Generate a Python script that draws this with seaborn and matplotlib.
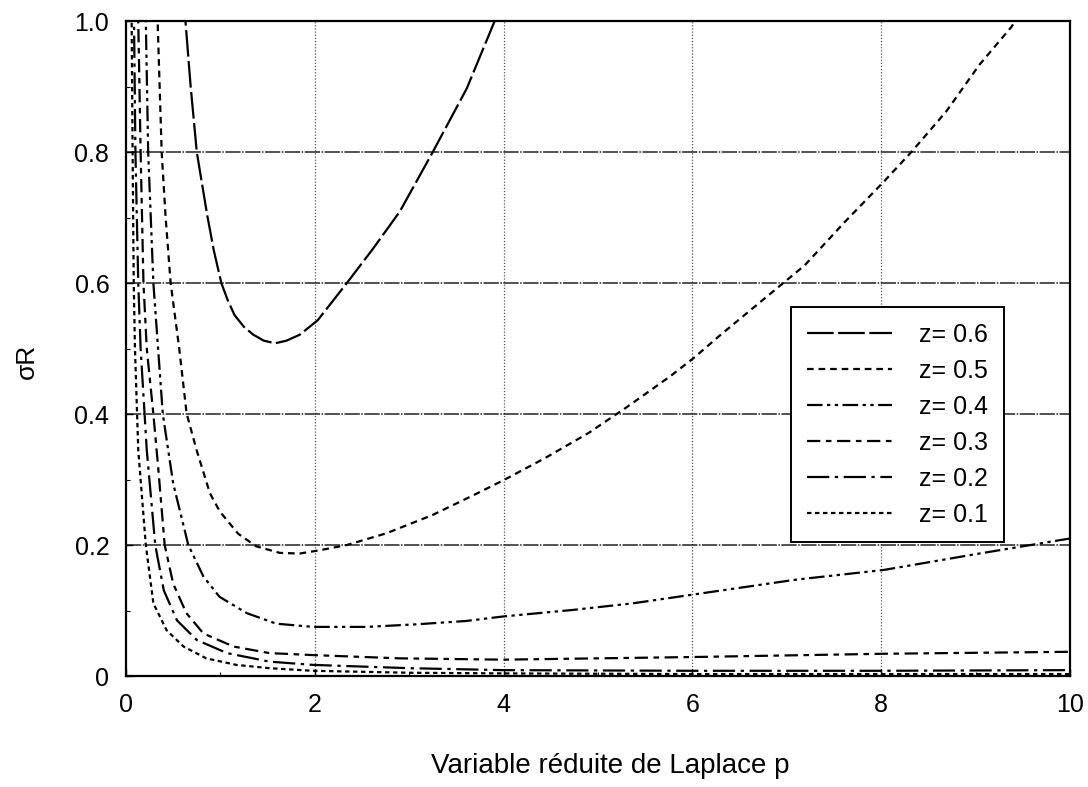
import matplotlib
matplotlib.use("Agg")
import matplotlib.pyplot as plt
from matplotlib import font_manager
from matplotlib.ticker import MultipleLocator
import seaborn as sns
import pandas as pd

# valeurs (p, sigma R) pour chaque z
p_06 = [0.61, 0.63, 0.685, 0.75, 0.86, 0.93, 1.01, 1.08, 1.15, 1.25, 1.35, 1.46, 1.58, 1.70, 1.84, 2.03, 2.34, 2.62, 2.90, 3.25, 3.61, 3.90, 3.95]
s_06 = [1.04, 1.00, 0.90, 0.80, 0.704, 0.65, 0.60, 0.573, 0.551, 0.533, 0.521, 0.512, 0.508, 0.512, 0.521, 0.543, 0.600, 0.653, 0.709, 0.800, 0.897, 0.998, 1.02]

p_05 = [0.33, 0.335, 0.378, 0.42, 0.473, 0.564, 0.642, 0.748, 0.889, 0.995, 1.19, 1.38, 1.63, 1.84, 2.05, 2.34, 2.76, 3.25,
        3.68, 4.00, 4.43, 4.90, 5.31, 5.76, 6.01, 6.30, 6.77, 7.19, 7.62, 8.03, 8.32, 8.69, 9.04, 9.38, 9.42]
s_05 = [1.03, 1.00, 0.80, 0.70, 0.60, 0.50, 0.401, 0.345, 0.279, 0.251, 0.217, 0.198, 0.188, 0.187, 0.192, 0.200, 0.218, 0.246,
        0.276, 0.299, 0.332, 0.371, 0.411, 0.457, 0.485, 0.521, 0.577, 0.627, 0.694, 0.755, 0.800, 0.862, 0.933, 0.991, 1.00]

p_04 = [0.20, 0.21, 0.235, 0.29, 0.34, 0.39, 0.50, 0.66, 0.82, 0.99, 1.28, 1.59, 1.98, 2.55, 3.08, 3.60, 4.00, 4.74, 5.37, 5.99, 7.09, 8.03, 9.04, 10.0]
s_04 = [1.05, 1.00, 0.80, 0.60, 0.50, 0.40, 0.294, 0.200, 0.152, 0.121, 0.096, 0.080, 0.075, 0.075, 0.079, 0.084, 0.091, 0.101, 0.111, 0.124, 0.147, 0.162, 0.187, 0.210]

p_03 = [0.125, 0.13, 0.155, 0.185, 0.22, 0.29, 0.34, 0.41, 0.50, 0.64, 0.82, 1.14, 1.52, 1.98, 2.90, 4.0, 6.0, 8.03, 10.0]
s_03 = [1.05, 1.00, 0.80, 0.60, 0.50, 0.40, 0.32, 0.20, 0.141, 0.096, 0.065, 0.045, 0.035, 0.032, 0.027, 0.025, 0.029, 0.034, 0.037]

p_02 = [0.08, 0.085, 0.10, 0.13, 0.155, 0.22, 0.31, 0.40, 0.54, 0.75, 1.07, 1.52, 1.98, 3.0, 4.0, 6.0, 8.0, 10.0]
s_02 = [1.05, 1.00, 0.80, 0.60, 0.50, 0.345, 0.20, 0.131, 0.085, 0.055, 0.035, 0.022, 0.017, 0.012, 0.009, 0.008, 0.008, 0.009]

p_01 = [0.055, 0.06, 0.07, 0.082, 0.095, 0.13, 0.21, 0.29, 0.43, 0.61, 0.85, 1.17, 1.52, 1.98, 3.0, 4.0, 6.0, 8.0, 10.0]
s_01 = [1.05, 1.00, 0.80, 0.60, 0.50, 0.345, 0.20, 0.111, 0.070, 0.045, 0.027, 0.017, 0.012, 0.008, 0.005, 0.004, 0.003, 0.003, 0.003]

noms = ["z= 0.6", "z= 0.5", "z= 0.4", "z= 0.3", "z= 0.2", "z= 0.1"]
series = [(p_06, s_06), (p_05, s_05), (p_04, s_04), (p_03, s_03), (p_02, s_02), (p_01, s_01)]

lignes = []
for nom, (p, s) in zip(noms, series):
    for a, b in zip(p, s):
        lignes.append({"p": a, "sigma": b, "z": nom})
df = pd.DataFrame(lignes)

# style des traits comme sur l'original
tirets = {
    "z= 0.6": (12, 2),
    "z= 0.5": (3, 2.2),
    "z= 0.4": (7, 2, 1.5, 2, 1.5, 2),
    "z= 0.3": (6, 2.5, 2.5, 2.5),
    "z= 0.2": (10, 2.5, 1.5, 2.5),
    "z= 0.1": (2, 1.6),
}

sns.set_theme(style="white")
dispo = {f.name for f in font_manager.fontManager.ttflist}
police = "Liberation Sans Narrow" if "Liberation Sans Narrow" in dispo else "Liberation Sans"
plt.rcParams["font.family"] = [police, "DejaVu Sans"]
plt.rcParams["text.color"] = "black"
plt.rcParams["axes.labelcolor"] = "black"

fig = plt.figure(figsize=(10.88, 7.87), dpi=100)
ax = fig.add_axes([0.1158, 0.141, 0.8676, 0.8323])

sns.lineplot(data=df, x="p", y="sigma", style="z", style_order=noms, dashes=tirets,
             color="black", linewidth=1.6, estimator=None, sort=False, ax=ax)

ax.set_xlim(0, 10)
ax.set_ylim(0, 1.0)
ax.set_xticks([0, 2, 4, 6, 8, 10])
ax.set_xticklabels(["0", "2", "4", "6", "8", "10"])
ax.set_yticks([0, 0.2, 0.4, 0.6, 0.8, 1.0])
ax.set_yticklabels(["0", "0.2", "0.4", "0.6", "0.8", "1.0"])
ax.xaxis.set_minor_locator(MultipleLocator(1))
ax.yaxis.set_minor_locator(MultipleLocator(0.1))
ax.tick_params(which="major", direction="in", length=5, width=1, labelsize=18, pad=12,
               bottom=True, left=True, colors="black")
ax.tick_params(which="minor", direction="in", length=3, width=0.8, bottom=True, left=True, colors="black")

for x in [2, 4, 6, 8]:
    ax.axvline(x, color="#555555", linestyle=(0, (1, 1.5)), linewidth=0.9, zorder=0)
for y in [0.2, 0.4, 0.6, 0.8]:
    ax.axhline(y, color="#222222", linestyle=(0, (10, 1, 1, 1)), linewidth=1.1, zorder=0)

for sp in ax.spines.values():
    sp.set_color("black")
    sp.set_linewidth(1.6)

ax.set_xlabel("Variable réduite de Laplace p", fontsize=20)
ax.set_ylabel("σR", fontsize=19)
ax.xaxis.set_label_coords(0.513, -0.118)
ax.yaxis.set_label_coords(-0.092, 0.48)

leg = ax.legend(loc="upper left", bbox_to_anchor=(0.705, 0.563), fontsize=18, frameon=True,
                fancybox=False, framealpha=1, handlelength=3.4, handletextpad=1.1, labelspacing=0.48,
                borderpad=0.62, borderaxespad=0)
leg.get_frame().set_edgecolor("black")
leg.get_frame().set_linewidth(1.4)
for h in leg.get_lines():
    h.set_linewidth(1.6)

fig.savefig("out.png", dpi=100)
